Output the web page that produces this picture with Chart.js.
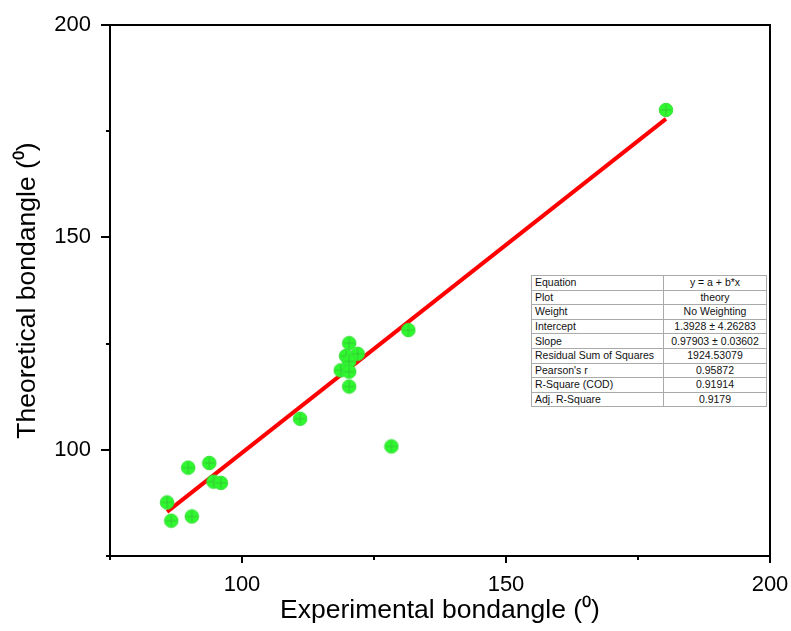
<!DOCTYPE html>
<html>
<head>
<meta charset="utf-8">
<script src="https://cdn.jsdelivr.net/npm/chart.js@4.4.1/dist/chart.umd.min.js"></script>
<style>
  html, body { margin: 0; padding: 0; background: #fff; }
  #wrap { position: relative; width: 791px; height: 631px; }
  #fitTable {
    position: absolute; left: 531px; top: 275px; width: 236px;
    border-collapse: collapse; border: 1px solid #555;
    font-family: "Liberation Sans", Arial, sans-serif; font-size: 10.5px; color: #111;
    background: #fff;
  }
  #fitTable td { border: 1px solid #aaa; height: 13.6px; padding: 0 3px; line-height: 13px; white-space: nowrap; }
  #fitTable td.v { text-align: center; width: 96px; }
</style>
</head>
<body>
<div id="wrap">
  <canvas id="chart" width="791" height="631"></canvas>
  <table id="fitTable"></table>
</div>
<script>
// measured points (experimental vs theoretical bond angle)
const expAngles = [85.8, 86.6, 89.8, 90.5, 93.8, 94.6, 96.0, 111.0, 120.3, 121.9, 119.7, 120.3, 118.7, 120.3, 120.3, 131.5, 128.3, 180.3];
const theoAngles = [87.6, 83.3, 95.8, 84.3, 96.9, 92.5, 92.2, 107.3, 125.1, 122.6, 122.1, 120.8, 118.7, 118.4, 114.9, 128.2, 100.8, 180.0];

// linear fit reported in the table
const fitIntercept = 1.3928;
const fitSlope = 0.97903;
const fitRange = [85.8, 180.3];

const tableLabels = ['Equation', 'Plot', 'Weight', 'Intercept', 'Slope', 'Residual Sum of Squares', "Pearson's r", 'R-Square (COD)', 'Adj. R-Square'];
const tableValues = ['y = a + b*x', 'theory', 'No Weighting', '1.3928 \u00b1 4.26283', '0.97903 \u00b1 0.03602', '1924.53079', '0.95872', '0.91914', '0.9179'];

const xTicks = [75, 100, 125, 150, 175, 200];
const yTicks = [75, 100, 125, 150, 175, 200];

// fill the stats table
const table = document.getElementById('fitTable');
table.innerHTML = tableLabels.map((lab, i) =>
  `<tr><td>${lab}</td><td class="v">${tableValues[i]}</td></tr>`).join('');

// green circle with a cross, like the Origin marker
function makeMarker() {
  const c = document.createElement('canvas');
  c.width = 16; c.height = 16;
  const g = c.getContext('2d');
  g.beginPath();
  g.arc(8, 8, 6.8, 0, Math.PI * 2);
  g.fillStyle = '#2ef82e';
  g.fill();
  g.lineWidth = 1;
  g.strokeStyle = '#3ade3a';
  g.stroke();
  g.beginPath();
  g.moveTo(8, 2.5); g.lineTo(8, 13.5);
  g.moveTo(2.5, 8); g.lineTo(13.5, 8);
  g.strokeStyle = '#34c834';
  g.stroke();
  return c;
}

const fitLine = fitRange.map(x => ({ x: x, y: fitIntercept + fitSlope * x }));

// frame + outward ticks drawn by hand (major longer, minor shorter)
const framePlugin = {
  id: 'frame',
  afterDraw(chart) {
    const { ctx, chartArea: a, scales } = chart;
    ctx.save();
    ctx.strokeStyle = '#000';
    ctx.lineWidth = 2;
    ctx.strokeRect(a.left, a.top, a.right - a.left, a.bottom - a.top);
    xTicks.forEach(v => {
      const px = Math.round(scales.x.getPixelForValue(v));
      const len = v % 50 === 0 ? 7 : 4;
      ctx.beginPath(); ctx.moveTo(px, a.bottom); ctx.lineTo(px, a.bottom + len); ctx.stroke();
    });
    yTicks.forEach(v => {
      const py = Math.round(scales.y.getPixelForValue(v));
      const len = v % 50 === 0 ? 9 : 4;
      ctx.beginPath(); ctx.moveTo(a.left, py); ctx.lineTo(a.left - len, py); ctx.stroke();
    });
    ctx.restore();
  }
};

const font = "'Liberation Sans', Arial, sans-serif";

new Chart(document.getElementById('chart'), {
  type: 'scatter',
  data: {
    datasets: [
      {
        label: 'theory',
        data: expAngles.map((x, i) => ({ x: x, y: theoAngles[i] })),
        pointStyle: makeMarker(),
        pointRadius: 8,
        order: 1
      },
      {
        type: 'line',
        label: 'fit',
        data: fitLine,
        borderColor: '#ff0000',
        borderWidth: 4,
        pointRadius: 0,
        fill: false,
        order: 2
      }
    ]
  },
  options: {
    responsive: false,
    animation: false,
    layout: { padding: { left: 0, right: 21, top: 25, bottom: 0 } },
    plugins: { legend: { display: false }, tooltip: { enabled: false } },
    scales: {
      x: {
        type: 'linear', min: 75, max: 200,
        afterFit(s) { s.height = 75; s.paddingLeft = 0; s.paddingRight = 0; },
        grid: { display: false, drawTicks: false },
        border: { display: false },
        ticks: {
          stepSize: 25, padding: 16, color: '#000',
          font: { family: font, size: 22 },
          callback: v => (v % 50 === 0 && v !== 75 ? v : '')
        },
        title: {
          display: true, text: 'Experimental bondangle (\u2070)', color: '#000',
          font: { family: font, size: 26.5 }, padding: { top: 7 }
        }
      },
      y: {
        type: 'linear', min: 75, max: 200,
        afterFit(s) { s.width = 110; s.paddingTop = 0; s.paddingBottom = 0; },
        grid: { display: false, drawTicks: false },
        border: { display: false },
        ticks: {
          stepSize: 25, padding: 19, color: '#000',
          font: { family: font, size: 22 },
          callback: v => (v % 50 === 0 ? v : '')
        },
        title: {
          display: true, text: 'Theoretical bondangle (\u2070)', color: '#000',
          font: { family: font, size: 26.5 }, padding: { top: 12, bottom: 0 }
        }
      }
    }
  },
  plugins: [framePlugin]
});
</script>
</body>
</html>
